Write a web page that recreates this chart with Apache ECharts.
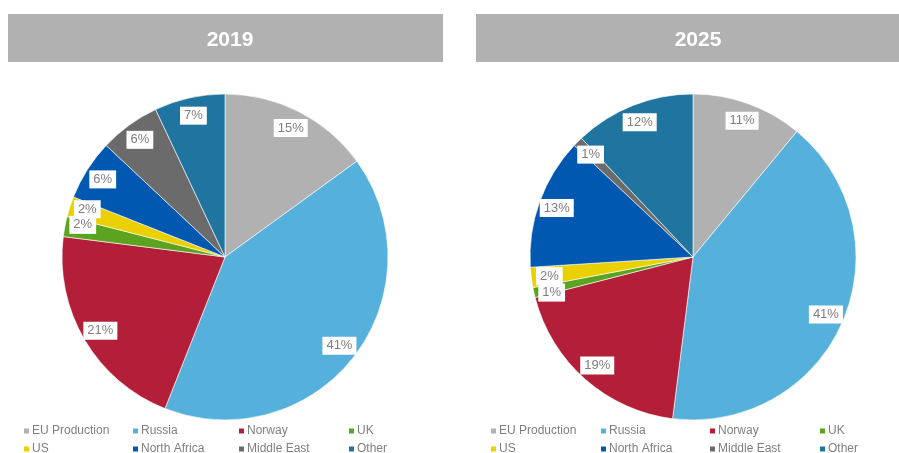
<!DOCTYPE html>
<html>
<head>
<meta charset="utf-8">
<script src="https://cdn.jsdelivr.net/npm/echarts@6/dist/echarts.min.js"></script>
<style>
  html, body { margin: 0; padding: 0; background: #fff; }
  #eChart { width: 899px; height: 453px; }
</style>
</head>
<body>
<div id="eChart"></div>
<script>
(function () {
    // data
    var categories = ['EU Production', 'Russia', 'Norway', 'UK', 'US', 'North Africa', 'Middle East', 'Other'];
    var colors = ['#b0b1b0', '#56b0dc', '#b31e38', '#5ca31f', '#ebd000', '#0058b0', '#6b6b6b', '#1f75a0'];
    var years = ['2019', '2025'];
    var share2019 = [15, 41, 21, 2, 2, 6, 6, 7];
    var share2025 = [11, 41, 19, 1, 2, 13, 1, 12];

    var centers = [[225, 257], [693, 257]];
    var R = 163;
    var font = 'Liberation Sans, Arial, sans-serif';

    function toData(vals, transparent) {
        return categories.map(function (c, i) {
            return {
                name: c,
                value: vals[i],
                itemStyle: { color: transparent ? 'rgba(0,0,0,0)' : colors[i] }
            };
        });
    }

    // small neighbouring slices (UK / US): nudge their labels a bit
    var nudges = [{ 3: -5, 4: -3 }, { 3: 4, 4: 1 }];
    function nudgeFor(k) {
        return function (params) {
            return { dy: nudges[k][params.dataIndex] || 0, hideOverlap: false };
        };
    }

    var series = [];
    [share2019, share2025].forEach(function (vals, k) {
        series.push({
            type: 'pie',
            center: centers[k],
            radius: [0, R],
            startAngle: 90,
            clockwise: true,
            silent: true,
            percentPrecision: 0,
            itemStyle: { borderColor: '#ffffff', borderWidth: 0.6 },
            label: { show: false },
            labelLine: { show: false },
            data: toData(vals, false)
        });
    });
    // label ring, so labels sit near the rim
    [share2019, share2025].forEach(function (vals, k) {
        series.push({
            type: 'pie',
            center: centers[k],
            radius: [R * 0.74, R],
            startAngle: 90,
            clockwise: true,
            silent: true,
            percentPrecision: 0,
            avoidLabelOverlap: false,
            itemStyle: { color: 'rgba(0,0,0,0)', borderWidth: 0 },
            label: {
                show: true,
                position: 'inside',
                formatter: '{d}%',
                color: '#7f7f7f',
                fontFamily: font,
                fontSize: 13,
                backgroundColor: '#ffffff',
                padding: [3, 4, 2, 4]
            },
            labelLayout: nudgeFor(k),
            labelLine: { show: false },
            data: toData(vals, true)
        });
    });

    function legendItem(left, top, name) {
        return {
            left: left,
            top: top,
            padding: 0,
            itemWidth: 7,
            itemHeight: 7,
            icon: 'rect',
            selectedMode: false,
            data: [name],
            textStyle: {
                color: '#7f7f7f',
                fontFamily: font,
                fontSize: 12,
                padding: [0, 0, 0, -3]
            }
        };
    }

    var legends = [];
    var colsLeft = [22, 131, 237, 347];
    var colsRight = [489, 599, 708, 818];
    var rows = [425, 443];
    [colsLeft, colsRight].forEach(function (cols) {
        cols.forEach(function (x, i) {
            legends.push(legendItem(x, rows[0], categories[i]));
            legends.push(legendItem(x, rows[1], categories[i + 4]));
        });
    });

    var option = {
        animation: false,
        backgroundColor: '#ffffff',
        graphic: [
            { type: 'rect', shape: { x: 8, y: 14, width: 435, height: 48 }, style: { fill: '#b0b1b0' }, silent: true },
            { type: 'rect', shape: { x: 476, y: 14, width: 423, height: 48 }, style: { fill: '#b0b1b0' }, silent: true }
        ],
        title: [
            {
                text: years[0], left: 225, top: 25, textAlign: 'center',
                textStyle: { color: '#ffffff', fontSize: 21, fontWeight: 'bold', fontFamily: font }
            },
            {
                text: years[1], left: 693, top: 25, textAlign: 'center',
                textStyle: { color: '#ffffff', fontSize: 21, fontWeight: 'bold', fontFamily: font }
            }
        ],
        legend: legends,
        series: series
    };

    var chart = echarts.init(document.getElementById('eChart'));
    chart.setOption(option);
})();
</script>
</body>
</html>
